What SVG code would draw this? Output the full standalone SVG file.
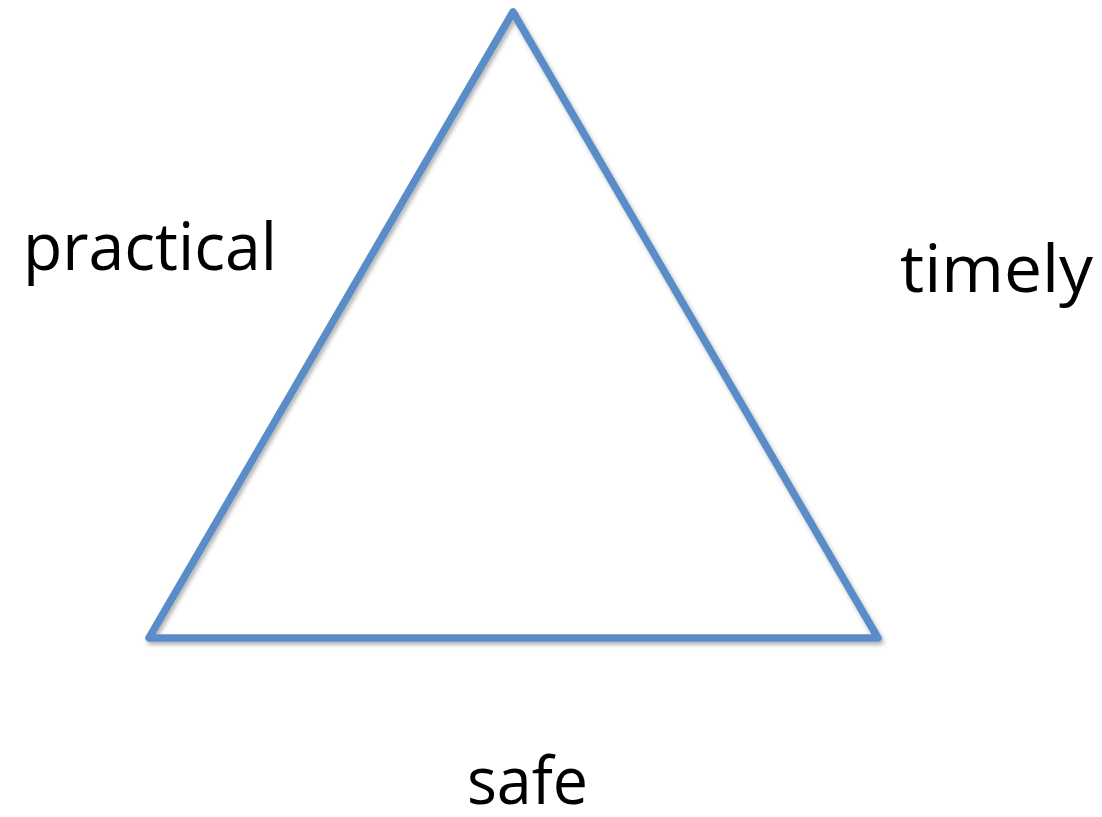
<svg xmlns="http://www.w3.org/2000/svg" width="1102" height="817" viewBox="0 0 1102 817">
<style>
.lbl{font-family:"Open Sans","Liberation Sans",sans-serif;font-size:66px;fill:#000;}
.tri{fill:none;stroke:#5a8dc8;stroke-width:7.5;stroke-linejoin:round;stroke-linecap:round;}
</style>
<defs>
<filter id="sh" x="-10%" y="-10%" width="120%" height="120%">
<feDropShadow dx="2" dy="3" stdDeviation="2" flood-color="#000" flood-opacity="0.3"/>
</filter>
</defs>
<g id="triangle">
<polygon class="tri" filter="url(#sh)" points="513,12 149,638 878,638"/>
</g>
<g id="practical"><text class="lbl" x="23" y="270" textLength="254" lengthAdjust="spacingAndGlyphs">practical</text></g>
<g id="timely"><text class="lbl" x="900" y="292" textLength="193" lengthAdjust="spacingAndGlyphs">timely</text></g>
<g id="safe"><text class="lbl" x="467" y="804" textLength="121" lengthAdjust="spacingAndGlyphs">safe</text></g>
</svg>
